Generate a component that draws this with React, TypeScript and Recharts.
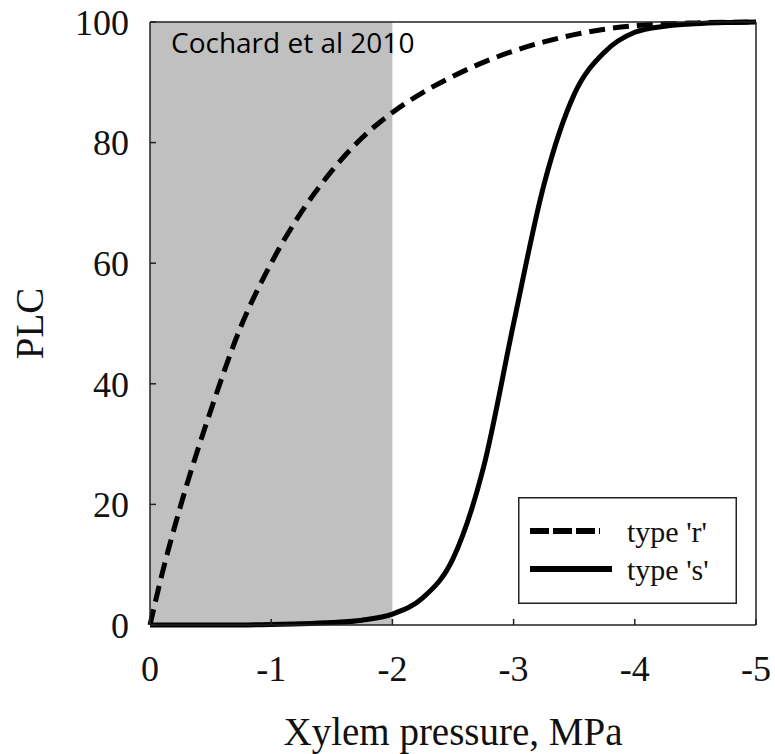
import React from 'react';
import {
  LineChart,
  Line,
  XAxis,
  YAxis,
  ReferenceArea,
  Legend,
} from 'recharts';

// xylem pressure (MPa) and percent loss of conductivity
const pressure = [0, -0.1, -0.25, -0.5, -0.75, -1, -1.25, -1.5, -1.75, -2, -2.25, -2.5, -2.75, -3, -3.25, -3.5, -3.75, -4, -4.25, -4.5, -4.75, -5];
const typeR = [0, 8.5, 19.6, 35.5, 49.5, 60, 68.5, 75.3, 80.8, 85, 88.3, 91, 93.3, 95.2, 96.7, 97.9, 98.8, 99.4, 99.7, 99.85, 99.95, 100];
const typeS = [0, 0, 0, 0, 0, 0.1, 0.2, 0.4, 0.8, 1.8, 4.5, 11, 26, 50, 73, 88, 95, 98.3, 99.3, 99.7, 99.9, 100];

const xTicks = [0, -1, -2, -3, -4, -5];
const yTicks = [0, 20, 40, 60, 80, 100];
const shadedRange = [0, -2];
const noteText = 'Cochard et al 2010';

const data = pressure.map((p, i) => ({ p, r: typeR[i], s: typeS[i] }));

const serif = '"Liberation Serif", "Times New Roman", serif';
const axisColor = '#222';

const legendStyles: Record<string, { dash?: string; len: number; width: number }> = {
  r: { dash: '19 4', len: 70, width: 6 },
  s: { len: 82, width: 6 },
};

const LegendBox = (props: any) => {
  const items = props.payload || [];
  return (
    <svg width={219} height={107} style={{ display: 'block' }}>
      <rect x={0.75} y={0.75} width={217.5} height={105.5} fill="#fff" stroke={axisColor} strokeWidth={1.5} />
      {items.map((it: any, i: number) => {
        const st = legendStyles[it.dataKey] || legendStyles.s;
        const cy = 34 + i * 38;
        return (
          <g key={it.dataKey}>
            <line x1={12} x2={12 + st.len} y1={cy} y2={cy} stroke="#000" strokeWidth={st.width} strokeDasharray={st.dash} />
            <text x={109} y={cy + 11} fontFamily={serif} fontSize={30} fill="#111">
              {it.value}
            </text>
          </g>
        );
      })}
    </svg>
  );
};

export default function App() {
  return (
    <div style={{ width: 775, height: 754, position: 'absolute', left: 0, top: 0 }}>
      <LineChart width={775} height={754} data={data} margin={{ top: 21, right: 18, bottom: 0, left: 8 }}>
        <ReferenceArea
          x1={shadedRange[0]}
          x2={shadedRange[1]}
          y1={0}
          y2={100}
          fill="#c0c0c0"
          fillOpacity={1}
          stroke="none"
          label={(p: any) => (
            <text x={p.viewBox.x + 21} y={p.viewBox.y + 31} fontFamily='"Open Sans", sans-serif' fontSize={28} fill="#000">
              {noteText}
            </text>
          )}
        />
        <XAxis
          dataKey="p"
          type="number"
          domain={[-5, 0]}
          reversed
          ticks={xTicks}
          interval={0}
          height={129}
          tickSize={-6}
          tickMargin={36}
          stroke={axisColor}
          strokeWidth={1.5}
          tick={{ fontFamily: serif, fontSize: 36, fill: '#111' }}
          label={(p: any) => (
            <text x={p.viewBox.x + p.viewBox.width / 2} y={p.viewBox.y + 120} textAnchor="middle" fontFamily={serif} fontSize={39} fill="#111">
              Xylem pressure, MPa
            </text>
          )}
        />
        <XAxis
          xAxisId="top"
          orientation="top"
          dataKey="p"
          type="number"
          domain={[-5, 0]}
          reversed
          ticks={xTicks}
          interval={0}
          height={1}
          tickSize={-6}
          tick={false}
          stroke={axisColor}
          strokeWidth={1.5}
        />
        <YAxis
          type="number"
          domain={[0, 100]}
          ticks={yTicks}
          interval={0}
          width={142}
          tickSize={-6}
          tickMargin={27}
          stroke={axisColor}
          strokeWidth={1.5}
          tick={{ fontFamily: serif, fontSize: 36, fill: '#111' }}
          label={(p: any) => {
            const cy = p.viewBox.y + p.viewBox.height / 2;
            return (
              <text x={43} y={cy} transform={`rotate(-90, 43, ${cy})`} textAnchor="middle" fontFamily={serif} fontSize={39} fill="#111">
                PLC
              </text>
            );
          }}
        />
        <YAxis
          yAxisId="right"
          orientation="right"
          type="number"
          domain={[0, 100]}
          ticks={yTicks}
          interval={0}
          width={1}
          tickSize={-6}
          tick={false}
          stroke={axisColor}
          strokeWidth={1.5}
        />
        <Line
          type="monotone"
          dataKey="r"
          name="type 'r'"
          stroke="#000"
          strokeWidth={5}
          strokeDasharray="16 8"
          dot={false}
          isAnimationActive={false}
        />
        <Line
          type="monotone"
          dataKey="s"
          name="type 's'"
          stroke="#000"
          strokeWidth={5}
          dot={false}
          isAnimationActive={false}
        />
        <Legend
          layout="vertical"
          align="center"
          verticalAlign="middle"
          content={<LegendBox />}
          wrapperStyle={{ left: 518, top: 497, width: 219, height: 107 }}
        />
      </LineChart>
    </div>
  );
}
